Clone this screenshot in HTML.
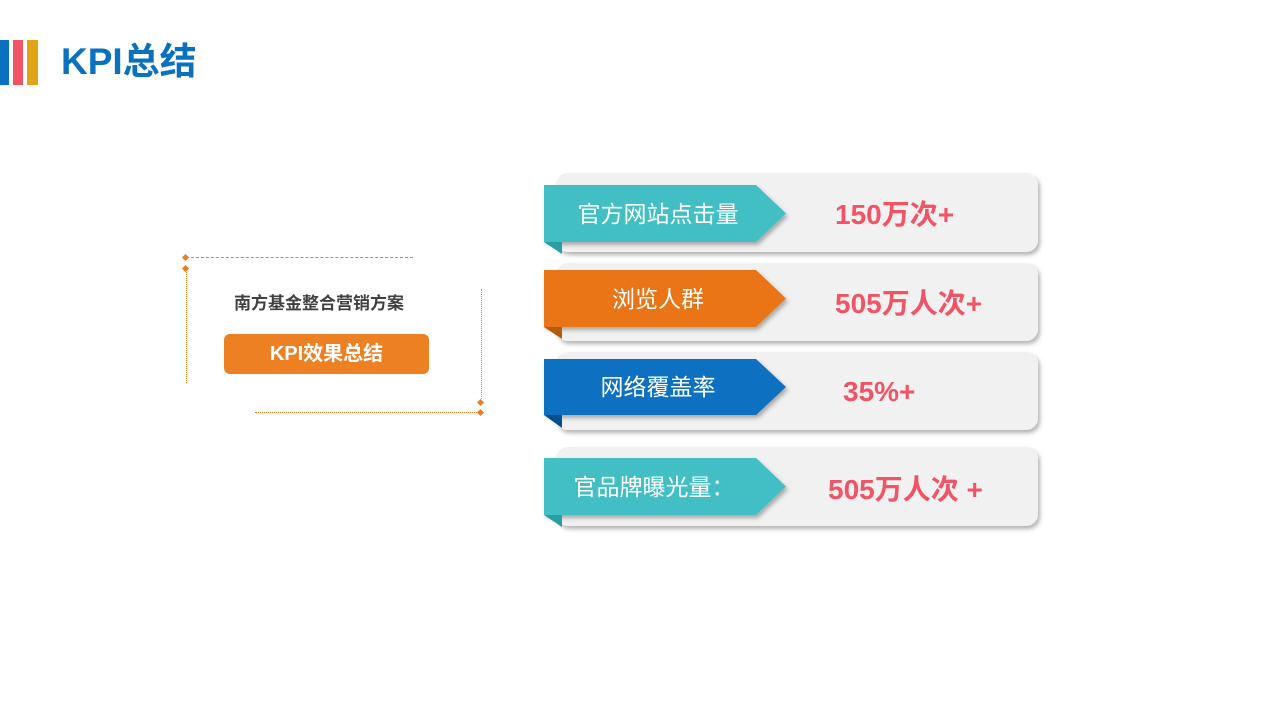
<!DOCTYPE html>
<html><head><meta charset="utf-8"><style>
body{margin:0;width:1280px;height:720px;background:#fff;position:relative;overflow:hidden;font-family:"Liberation Sans","Noto Sans CJK SC",sans-serif;}
.a{position:absolute}
</style></head><body>
<div class="a" style="left:0;top:40px;width:9px;height:45px;background:#0a70c0"></div>
<div class="a" style="left:13px;top:40px;width:10px;height:45px;background:#f25465"></div>
<div class="a" style="left:27px;top:40px;width:11px;height:45px;background:#e0a316"></div>
<div class="a" style="left:61px;top:37px;font-size:37px;font-weight:bold;color:#0a70c0;line-height:50px">KPI总结</div>

<div class="a" style="left:186px;top:257px;width:227px;border-top:1px dashed #ee7d22;height:0"></div>
<div class="a" style="left:186px;top:268px;height:115px;border-left:1px dotted #ee7d22"></div>
<div class="a" style="left:481px;top:289px;height:114px;border-left:1px dotted #ee7d22"></div>
<div class="a" style="left:255px;top:412px;width:226px;border-top:1px dotted #ee7d22"></div>
<svg class="a" style="left:0;top:0" width="1280" height="720">
<g fill="#ee7d22">
<rect x="183" y="255" width="5" height="5" transform="rotate(45 185.5 257.5)"/>
<rect x="183" y="266" width="5" height="5" transform="rotate(45 185.5 268.5)"/>
<rect x="478" y="400" width="5" height="5" transform="rotate(45 480.5 402.5)"/>
<rect x="478" y="410" width="5" height="5" transform="rotate(45 480.5 412.5)"/>
</g>
<defs><filter id="s" x="-5%" y="-10%" width="112%" height="130%"><feDropShadow dx="2" dy="3" stdDeviation="2" flood-color="#000" flood-opacity="0.3"/></filter></defs>
<g filter="url(#s)" fill="#f1f1f1">
<rect x="556" y="173" width="482" height="79" rx="12"/>
<rect x="556" y="263" width="482" height="78" rx="12"/>
<rect x="556" y="352" width="482" height="78" rx="12"/>
<rect x="556" y="447" width="482" height="79" rx="12"/>
</g>
<g filter="url(#s)">
<polygon points="544,185 756,185 786,213.5 756,242 544,242" fill="#42bfc4"/>
<polygon points="544,270 756,270 786,298.5 756,327 544,327" fill="#ea7513"/>
<polygon points="544,359 756,359 786,387 756,415 544,415" fill="#0a70c0"/>
<polygon points="544,458 756,458 786,486.5 756,515 544,515" fill="#42bfc4"/>
</g>
<polygon points="544,242 562,242 562,254" fill="#2a9ea3"/>
<polygon points="544,327 562,327 562,339" fill="#b85a0c"/>
<polygon points="544,415 562,415 562,428" fill="#07508e"/>
<polygon points="544,515 562,515 562,527" fill="#2a9ea3"/>
</svg>
<div class="a" style="left:234px;top:289px;font-size:17px;font-weight:bold;color:#404040">南方基金整合营销方案</div>
<div class="a" style="left:224px;top:334px;width:205px;height:40px;border-radius:6px;background:#ee8024;color:#fff;font-size:20px;font-weight:bold;text-align:center;line-height:40px">KPI效果总结</div>

<div class="a" style="left:544px;top:197px;width:228px;text-align:center;color:#fff;font-size:23px;line-height:34px">官方网站点击量</div>
<div class="a" style="left:544px;top:282px;width:228px;text-align:center;color:#fff;font-size:23px;line-height:34px">浏览人群</div>
<div class="a" style="left:544px;top:370px;width:228px;text-align:center;color:#fff;font-size:23px;line-height:34px">网络覆盖率</div>
<div class="a" style="left:544px;top:470px;width:220px;text-align:center;color:#fff;font-size:23px;line-height:34px">官品牌曝光量：</div>

<div class="a" style="left:835px;top:198px;color:#f25465;font-size:28px;font-weight:bold;line-height:34px">150万次+</div>
<div class="a" style="left:835px;top:287px;color:#f25465;font-size:28px;font-weight:bold;line-height:34px">505万人次+</div>
<div class="a" style="left:843px;top:375px;color:#f25465;font-size:28px;font-weight:bold;line-height:34px">35%+</div>
<div class="a" style="left:828px;top:473px;color:#f25465;font-size:28px;font-weight:bold;line-height:34px">505万人次 +</div>
</body></html>
